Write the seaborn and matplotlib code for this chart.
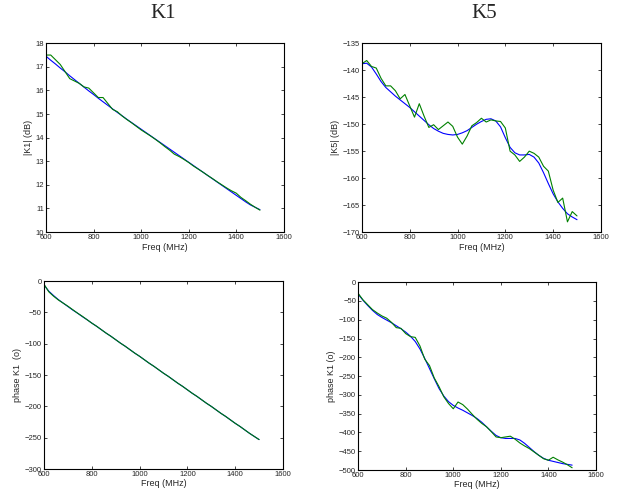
import numpy as np
import pandas as pd
import seaborn as sns
import matplotlib
matplotlib.use("Agg")
import matplotlib.pyplot as plt

# frequency grid (MHz)
freq = list(range(600, 1501, 20))

# |K1| (dB)
k1_mag_meas = [17.5, 17.5, 17.3, 17.1, 16.8, 16.5, 16.4, 16.3, 16.15, 16.1,
               15.9, 15.7, 15.7, 15.45, 15.2, 15.1, 14.92, 14.77, 14.63, 14.48,
               14.33, 14.2, 14.07, 13.93, 13.78, 13.62, 13.47, 13.3, 13.2, 13.08,
               12.95, 12.8, 12.67, 12.54, 12.4, 12.27, 12.13, 12.0, 11.87, 11.75,
               11.65, 11.47, 11.33, 11.18, 11.05, 10.93]
k1_mag_fit = [17.45, 17.28, 17.12, 16.95, 16.79, 16.62, 16.46, 16.3, 16.14, 15.98,
              15.83, 15.67, 15.52, 15.37, 15.22, 15.07, 14.93, 14.78, 14.64, 14.5,
              14.36, 14.22, 14.08, 13.94, 13.8, 13.66, 13.52, 13.38, 13.24, 13.1,
              12.96, 12.82, 12.68, 12.54, 12.4, 12.26, 12.12, 11.98, 11.84, 11.7,
              11.56, 11.42, 11.28, 11.15, 11.05, 10.95]

# |K5| (dB)
k5_mag_meas = [-138.8, -138.2, -139.3, -139.6, -141.5, -142.9, -142.9, -143.8, -145.3, -144.5,
               -146.6, -148.7, -146.2, -148.5, -150.6, -150.1, -151.0, -150.3, -149.6, -150.4,
               -152.4, -153.7, -152.2, -150.3, -149.7, -148.9, -149.6, -149.2, -149.4, -149.5,
               -150.7, -155.0, -155.7, -156.9, -156.1, -155.0, -155.4, -156.1, -157.8, -158.7,
               -162.2, -164.5, -163.7, -168.1, -166.2, -167.0]
k5_mag_fit = [-138.8, -138.7, -139.4, -140.7, -142.1, -143.2, -144.0, -144.8, -145.5, -146.2,
              -146.9, -147.7, -148.5, -149.3, -150.1, -150.8, -151.3, -151.7, -151.9, -152.0,
              -151.9, -151.6, -151.2, -150.6, -150.0, -149.5, -149.1, -149.0, -149.4, -150.5,
              -152.5, -154.3, -155.3, -155.7, -155.7, -155.6, -156.1, -157.2, -159.0, -161.0,
              -162.9, -164.4, -165.6, -166.6, -167.2, -167.7]

# phase K1 (deg)
k1_ph_meas = [-5, -17, -24, -30, -35, -40, -45.5, -51, -56, -61.5,
              -67, -72, -77.5, -83, -88, -93.5, -99, -104, -109.5, -115,
              -120, -125.5, -131, -136, -141.5, -147, -152, -157.5, -163, -168,
              -173.5, -179, -184, -189.5, -195, -200, -205.5, -211, -216, -221.5,
              -227, -232, -237.5, -243, -248, -253]
k1_ph_fit = [-6, -16, -23, -29.5, -35, -40.5, -46, -51, -56.5, -61.5,
             -67, -72, -77.5, -83, -88, -93.5, -99, -104, -109.5, -115,
             -120, -125.5, -131, -136, -141.5, -147, -152, -157.5, -163, -168,
             -173.5, -179, -184, -189.5, -195, -200, -205.5, -211, -216, -221.5,
             -227, -232, -237.5, -243, -248, -253]

# phase K5 (deg)
k5_ph_meas = [-30, -47, -60, -73, -82, -90, -96, -107, -121, -123,
              -137, -145, -147, -170, -205, -222, -255, -278, -305, -323,
              -337, -319, -326, -338, -352, -365, -376, -385, -398, -412,
              -414, -412, -410, -418, -428, -436, -443, -452, -461, -470,
              -474, -466, -473, -479, -486, -494]
k5_ph_fit = [-32, -48, -62, -75, -86, -94, -101, -108, -116, -124,
             -133, -144, -158, -178, -203, -230, -257, -283, -303, -318,
             -328, -335, -341, -348, -355, -363, -373, -385, -397, -408,
             -414, -416, -416, -416, -420, -429, -440, -451, -461, -469,
             -474, -477, -480, -483, -485, -487]

sns.set_style("white")
plt.rcParams["font.family"] = ["Liberation Sans", "DejaVu Sans"]

fig = plt.figure(figsize=(6.24, 4.97), dpi=100)

panels = [
    ([0.0737, 0.533, 0.381, 0.380], k1_mag_fit, k1_mag_meas, (10, 18), 1, "|K1| (dB)"),
    ([0.580, 0.533, 0.383, 0.380], k5_mag_fit, k5_mag_meas, (-170, -135), 5, "|K5| (dB)"),
    ([0.0705, 0.0563, 0.383, 0.378], k1_ph_fit, k1_ph_meas, (-300, 0), 50, "phase K1  (o)"),
    ([0.574, 0.0543, 0.381, 0.378], k5_ph_fit, k5_ph_meas, (-500, 0), 50, "phase K1 (o)"),
]

for rect, fit, meas, ylim, ystep, ylabel in panels:
    ax = fig.add_axes(rect)
    df = pd.DataFrame({"freq": freq, "fit": fit, "meas": meas})
    sns.lineplot(data=df, x="freq", y="fit", ax=ax, color="#0000ff", linewidth=0.8)
    sns.lineplot(data=df, x="freq", y="meas", ax=ax, color="#008000", linewidth=0.8)
    ax.set_xlim(600, 1600)
    ax.set_ylim(*ylim)
    ax.set_xticks(range(600, 1601, 200))
    ax.set_yticks(np.arange(ylim[0], ylim[1] + 0.1, ystep))
    ax.tick_params(direction="in", length=2.5, width=0.6, labelsize=5.5, pad=1.5,
                   top=True, right=True, bottom=True, left=True)
    for s in ax.spines.values():
        s.set_linewidth(0.8)
        s.set_color("black")
    ax.set_xlabel("Freq (MHz)", fontsize=6.5, labelpad=1)
    ax.set_ylabel(ylabel, fontsize=6.5, labelpad=2)

fig.text(0.262, 0.972, "K1", ha="center", va="center", fontsize=15, family="Liberation Serif")
fig.text(0.776, 0.972, "K5", ha="center", va="center", fontsize=15, family="Liberation Serif")

fig.savefig("out.png", dpi=100)
